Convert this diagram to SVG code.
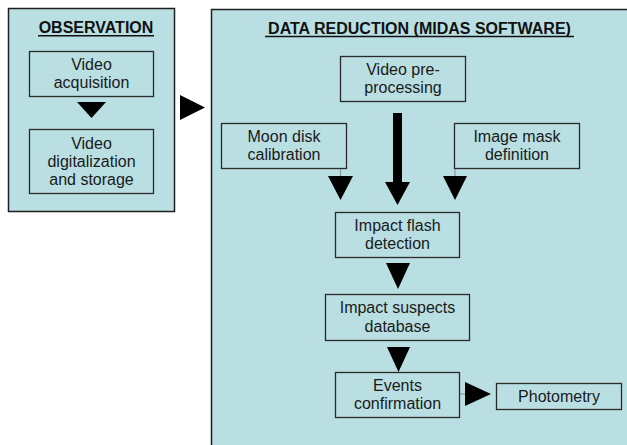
<svg xmlns="http://www.w3.org/2000/svg" width="627" height="445" viewBox="0 0 627 445">
<style>
.panel{fill:#b9dfe2;stroke:#1e1e1e;stroke-width:1.5}
.box{fill:#b9dfe2;stroke:#2a2a2a;stroke-width:1.3}
.t{font-family:"Liberation Sans",Arial,sans-serif;font-size:16px;fill:#1a1a1a;text-anchor:middle}
.title{font-family:"Liberation Sans",Arial,sans-serif;font-size:16px;font-weight:bold;fill:#111;text-anchor:middle}
.ul{stroke:#111;stroke-width:1.4}
.head{fill:#000}
.stem{stroke:#8a9a9c;stroke-width:1.2}
</style>
<rect width="627" height="445" fill="#ffffff"/>
<g id="observation">
<rect class="panel" x="8.5" y="8.5" width="166" height="203"/>
<text class="title" x="96" y="33">OBSERVATION</text>
<line class="ul" x1="38" y1="35.8" x2="154" y2="35.8"/>
</g>
<g id="video-acquisition">
<rect class="box" x="29.5" y="51.5" width="124" height="45"/>
<text class="t" x="91.5" y="70">Video</text>
<text class="t" x="91.5" y="88">acquisition</text>
</g>
<g id="video-digitalization">
<rect class="box" x="29.5" y="129.5" width="124" height="64"/>
<text class="t" x="91.5" y="149">Video</text>
<text class="t" x="91.5" y="167">digitalization</text>
<text class="t" x="91.5" y="185">and storage</text>
</g>
<g id="data-reduction">
<rect class="panel" x="211.5" y="9.5" width="430" height="450"/>
<text class="title" x="419.5" y="34">DATA REDUCTION (MIDAS SOFTWARE)</text>
<line class="ul" x1="265" y1="36.5" x2="574" y2="36.5"/>
</g>
<g id="video-preprocessing">
<rect class="box" x="340.5" y="56.5" width="125" height="45"/>
<text class="t" x="403" y="75">Video pre-</text>
<text class="t" x="403" y="93">processing</text>
</g>
<g id="moon-disk">
<rect class="box" x="221.5" y="123.5" width="125" height="45"/>
<text class="t" x="284" y="142">Moon disk</text>
<text class="t" x="284" y="160">calibration</text>
</g>
<g id="image-mask">
<rect class="box" x="454.5" y="123.5" width="125" height="45"/>
<text class="t" x="517" y="142">Image mask</text>
<text class="t" x="517" y="160">definition</text>
</g>
<g id="impact-flash">
<rect class="box" x="335.5" y="212.5" width="124" height="45"/>
<text class="t" x="397.5" y="231">Impact flash</text>
<text class="t" x="397.5" y="249">detection</text>
</g>
<g id="impact-suspects">
<rect class="box" x="325.5" y="294.5" width="144" height="46"/>
<text class="t" x="397.5" y="313">Impact suspects</text>
<text class="t" x="397.5" y="332">database</text>
</g>
<g id="events-confirmation">
<rect class="box" x="335.5" y="372.5" width="124" height="45"/>
<text class="t" x="397.5" y="391">Events</text>
<text class="t" x="397.5" y="409">confirmation</text>
</g>
<g id="photometry">
<rect class="box" x="496.5" y="383.5" width="125" height="26"/>
<text class="t" x="559" y="402">Photometry</text>
</g>
<g id="connectors">
<polygon class="head" points="77,102 106,102 91.5,118"/>
<polygon class="head" points="180,95 180,120 205,107.5"/>
<line class="stem" x1="340.5" y1="169" x2="340.5" y2="176"/>
<polygon class="head" points="328,176 353,176 340.5,200"/>
<polygon class="head" points="393,113 402,113 402,182 410,182 397.5,205 385,182 393,182"/>
<line class="stem" x1="455" y1="169" x2="455" y2="176"/>
<polygon class="head" points="443,176 467,176 455,200"/>
<polygon class="head" points="386,263 410,263 398,289"/>
<polygon class="head" points="387,347 410,347 398.5,372"/>
<line class="stem" x1="460" y1="394" x2="465" y2="394"/>
<polygon class="head" points="465,382 465,406 491,394"/>
</g>
</svg>
